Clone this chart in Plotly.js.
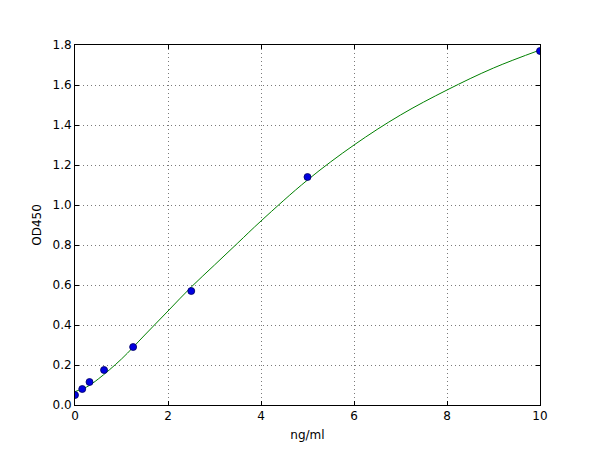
<!DOCTYPE html>
<html>
<head>
<meta charset="utf-8">
<script src="https://cdn.plot.ly/plotly-3.0.1.min.js"></script>
<style>
  body { margin: 0; background: #fff; }
  #chart { width: 600px; height: 450px; }
</style>
</head>
<body>
<div id="chart"></div>
<script>
// standard points (ng/ml vs OD450)
const concentrations = [0, 0.156, 0.3125, 0.625, 1.25, 2.5, 5, 10];
const odValues = [0.05, 0.08, 0.115, 0.175, 0.29, 0.57, 1.14, 1.77];

// fitted curve
const curveX = [0, 0.25, 0.5, 1, 1.5, 2, 2.5, 3, 3.5, 4, 5, 6, 7, 8, 9, 10];
const curveY = [0.067, 0.09, 0.13, 0.23, 0.35, 0.47, 0.59, 0.70, 0.81, 0.92, 1.125, 1.30, 1.45, 1.575, 1.685, 1.775];

const xTicks = [0, 2, 4, 6, 8, 10];
const yTicks = [0, 0.2, 0.4, 0.6, 0.8, 1.0, 1.2, 1.4, 1.6, 1.8];

const axisBase = {
    showline: true,
    linecolor: '#000',
    linewidth: 1,
    mirror: 'ticks',
    ticks: 'inside',
    ticklen: 4,
    tickcolor: '#000',
    showgrid: true,
    gridcolor: '#7a7a7a',
    griddash: '1px,3px',
    gridwidth: 1,
    zeroline: false,
    tickfont: { family: 'DejaVu Sans', size: 12, color: '#000' }
};

const data = [
    {
        type: 'scatter',
        mode: 'lines',
        x: curveX,
        y: curveY,
        line: { color: '#008000', width: 1, shape: 'spline' },
        hoverinfo: 'skip'
    },
    {
        type: 'scatter',
        mode: 'markers',
        x: concentrations,
        y: odValues,
        marker: { color: '#0000e0', size: 7, line: { color: '#000060', width: 0.8 } }
    }
];

const layout = {
    width: 600,
    height: 450,
    paper_bgcolor: '#fff',
    plot_bgcolor: '#fff',
    showlegend: false,
    margin: { l: 75, r: 60, t: 45, b: 45 },
    font: { family: 'DejaVu Sans', size: 12, color: '#000' },
    xaxis: {
        ...axisBase,
        range: [0, 10],
        tickvals: xTicks,
        ticktext: xTicks.map(v => String(v)),
        title: { text: 'ng/ml', font: { family: 'DejaVu Sans', size: 12 }, standoff: 8 }
    },
    yaxis: {
        ...axisBase,
        range: [0, 1.8],
        tickvals: yTicks,
        ticktext: yTicks.map(v => v.toFixed(1)),
        title: { text: 'OD450', font: { family: 'DejaVu Sans', size: 12 }, standoff: 8 }
    }
};

Plotly.newPlot('chart', data, layout, { displayModeBar: false, responsive: false });
</script>
</body>
</html>
